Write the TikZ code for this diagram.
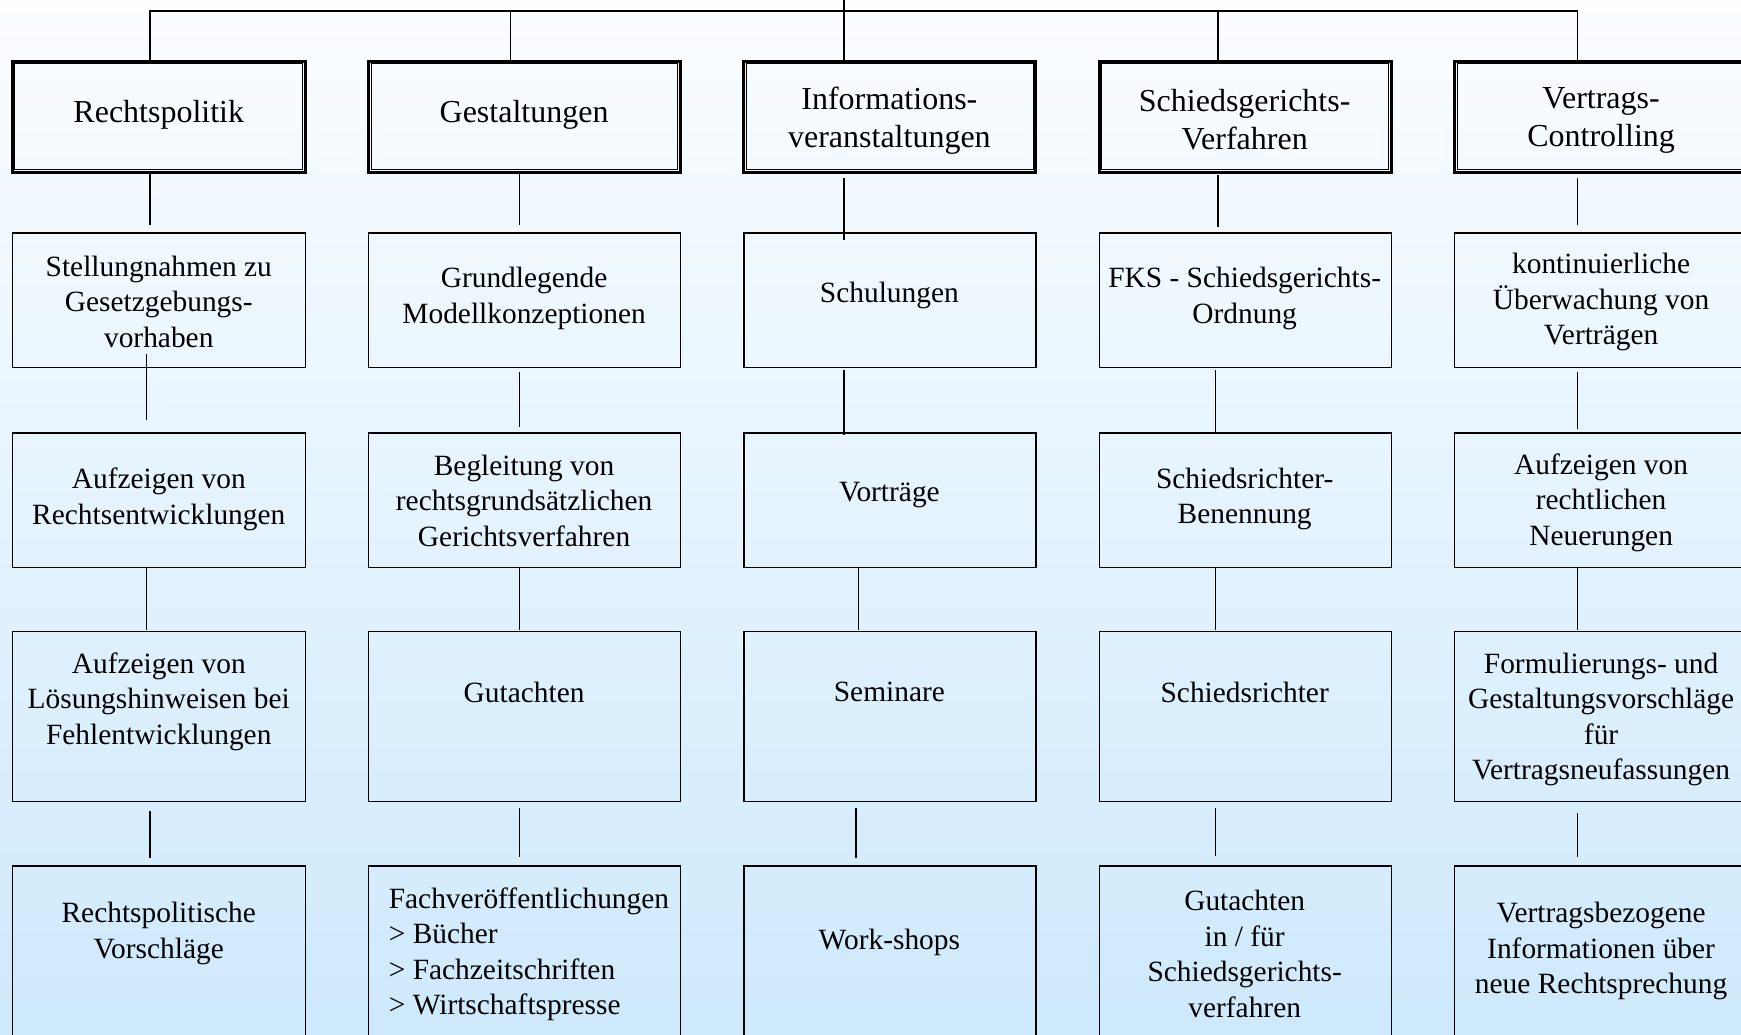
\documentclass[tikz,border=0pt]{standalone}
\usepackage{fontspec}
\setmainfont{Liberation Serif}
\usetikzlibrary{fit}
\definecolor{bgtop}{RGB}{251,253,255}
\definecolor{bgbot}{RGB}{206,233,252}
\tikzset{
  txt/.style={font=\fontsize{29.4}{35.5}\selectfont, align=center, inner sep=0pt},
  htxt/.style={font=\fontsize{32}{37.7}\selectfont, align=center, inner sep=0pt},
  ltxt/.style={font=\fontsize{29.4}{35.5}\selectfont, align=left, inner sep=0pt},
  boxx/.style={draw=black, line width=1.4pt, inner sep=0pt},
  headbox/.style={draw=black, line width=3pt, inner sep=0pt},
  conn/.style={draw=black, line width=1.3pt}
}
\begin{document}
\begin{tikzpicture}[x=1.1103pt, y=-1.1103pt]
\useasboundingbox (0,0) rectangle (1568,931.3);
\fill[top color=bgtop, bottom color=bgbot] (0,0) rectangle (1568,931.3);
\clip (0,0) rectangle (1568,931.3);

% header boxes
\foreach \n/\l/\r in {h1/11/275, h2/332/613, h3/670/933, h4/990/1253, h5/1310/1574}{
  \node[headbox, fit={(\l,55) (\r,155)}] (\n) {};
  \draw[line width=1pt] ([shift={(3.8,3.8)}]\n.north west) rectangle ([shift={(-3.8,-3.8)}]\n.south east);
}
% other boxes
\foreach \c/\l/\r in {1/11/275, 2/332/613, 3/670/933, 4/990/1253, 5/1310/1574}{
  \node[boxx, fit={(\l,210) (\r,331)}] (b2\c) {};
  \node[boxx, fit={(\l,390) (\r,511)}] (b3\c) {};
  \node[boxx, fit={(\l,569) (\r,722)}] (b4\c) {};
  \node[boxx, fit={(\l,780) (\r,970)}] (b5\c) {};
}

% top bar
\coordinate (top) at (760,0);
\coordinate (barL) at (135,10);
\coordinate (barR) at (1421,10);
\draw[conn] (barL |- h1.north) -- (barL) -- (barR) -- (barR |- h5.north);
\draw[conn] (top) -- (760,55);
\draw[conn] (460,10) -- (460,55);
\draw[conn] (1097,10) -- (1097,55);

% texts
\node[htxt] (t11) at (143,103.5) {Rechtspolitik};
\node[htxt] (t12) at (472,103.5) {Gestaltungen};
\node[htxt] (t13) at (801,108.5) {Informations-\\veranstaltungen};
\node[htxt] (t14) at (1121,108) {Schiedsgerichts-\\Verfahren};
\node[htxt] (t15) at (1442,108.5) {Vertrags-\\Controlling};

\node[txt] (t21) at (143,271.5) {Stellungnahmen zu\\Gesetzgebungs-\\vorhaben};
\node[txt] (t22) at (472,269) {Grundlegende\\Modellkonzeptionen};
\node[txt] (t23) at (801,266) {Schulungen};
\node[txt] (t24) at (1121,269) {FKS - Schiedsgerichts-\\Ordnung};
\node[txt] (t25) at (1442,272) {kontinuierliche\\Überwachung von\\Verträgen};

\node[txt] (t31) at (143,449.5) {Aufzeigen von\\Rechtsentwicklungen};
\node[txt] (t32) at (472,451) {Begleitung von\\rechtsgrundsätzlichen\\Gerichtsverfahren};
\node[txt] (t33) at (801,445.5) {Vorträge};
\node[txt] (t34) at (1121,449.5) {Schiedsrichter-\\Benennung};
\node[txt] (t35) at (1442,452.5) {Aufzeigen von\\rechtlichen\\Neuerungen};

\node[txt] (t41) at (143,632) {Aufzeigen von\\Lösungshinweisen bei\\Fehlentwicklungen};
\node[txt] (t42) at (472,623.5) {Gutachten};
\node[txt] (t43) at (801,623.5) {Seminare};
\node[txt] (t44) at (1121,623.5) {Schiedsrichter};
\node[txt] (t45) at (1442,648) {Formulierungs- und\\Gestaltungsvorschläge\\für\\Vertragsneufassungen};

\node[txt] (t51) at (143,840.5) {Rechtspolitische\\Vorschläge};
\node[ltxt, anchor=west] (t52) at (350,859.5) {Fachveröffentlichungen\\> Bücher\\> Fachzeitschriften\\> Wirtschaftspresse};
\node[txt] (t53) at (801,848.5) {Work-shops};
\node[txt] (t54) at (1121,859) {Gutachten\\in / für\\Schiedsgerichts-\\verfahren};
\node[txt] (t55) at (1442,856.5) {Vertragsbezogene\\Informationen über\\neue Rechtsprechung};

% connectors (floating segments)
\foreach \x/\ya/\yb in {
  135/157/203, 132/319/378, 132/512/567, 135/730/773,
  468/157/203, 468/335/385, 468/512/567, 468/728/772,
  760/160/216, 760/333/392, 773/511/567, 771/728/773,
  1097/158/204, 1095/333/390, 1095/511/567, 1095/728/771,
  1421/160/203, 1421/335/386, 1421/512/567, 1421/732/772}{
  \draw[conn] (\x,\ya) -- (\x,\yb);
}
\end{tikzpicture}
\end{document}
